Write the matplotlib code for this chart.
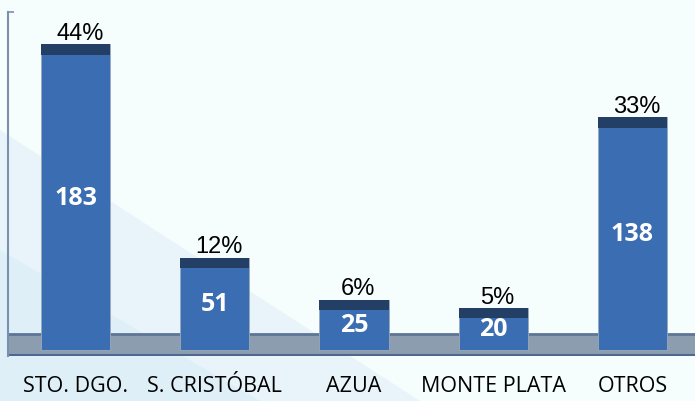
import matplotlib.pyplot as plt
from matplotlib.patches import Polygon, Rectangle

categorias = ['STO. DGO.', 'S. CRISTÓBAL', 'AZUA', 'MONTE PLATA', 'OTROS']
valores = [183, 51, 25, 20, 138]
porcentajes = ['44%', '12%', '6%', '5%', '33%']

fig = plt.figure(figsize=(6.95, 4.01), dpi=100)
fig.patch.set_facecolor('#f6fdfd')

# fondo con swoosh claro abajo a la izquierda
bg = fig.add_axes([0, 0, 1, 1], zorder=-1)
bg.set_xlim(0, 695)
bg.set_ylim(401, 0)
bg.axis('off')
bg.add_patch(Polygon([(0, 130), (0, 401), (420, 401)], closed=True,
                     facecolor='#e8f4fa', edgecolor='none'))
bg.add_patch(Polygon([(0, 250), (0, 401), (260, 401)], closed=True,
                     facecolor='#deeff8', edgecolor='none'))

ax = fig.add_axes([8/695, 45/401, 687/695, 344/401])
ax.set_facecolor('none')
ax.set_xlim(-0.485, 4.449)
ax.set_ylim(-9.9, 203.1)

# piso gris
ax.add_patch(Rectangle((-0.485, -9.6), 5, 13.3, facecolor='#8d9db0',
                       edgecolor='none', zorder=1))
ax.axhline(3.7, color='#5d7597', lw=2, zorder=1.5)
ax.axhline(-9.4, color='#4e6990', lw=2.2, zorder=1.5)

x = range(len(categorias))
fondo = -6.2
cap = 6.5
ax.bar(x, [v - fondo for v in valores], bottom=fondo, width=0.497,
       color='#3a6db1', edgecolor='#9aaabb', linewidth=0.6, zorder=2)
ax.bar(x, [cap] * len(valores), bottom=[v - cap for v in valores], width=0.497,
       color='#243f66', edgecolor='none', zorder=3)

for i, (v, p) in enumerate(zip(valores, porcentajes)):
    ax.text(i + 0.03, v - 0.5, p, ha='center', va='bottom', fontsize=17,
            family='Liberation Sans', color='black', zorder=4)
    ax.text(i, v / 2 - 3.7, str(v), ha='center', va='center', fontsize=18,
            fontweight='bold', family='Open Sans', color='white', zorder=4)
    ax.text(i, -28.5, categorias[i], ha='center', va='center', fontsize=15.5,
            family='Open Sans', color='black', clip_on=False)

for s in ['top', 'right', 'bottom']:
    ax.spines[s].set_visible(False)
ax.spines['left'].set_color('#7a90ae')
ax.spines['left'].set_linewidth(1.5)
ax.set_xticks([])
ax.set_yticks([203.1])
ax.set_yticklabels([])
ax.tick_params(axis='y', direction='in', length=4, color='#7a90ae', width=1.2)

fig.savefig('out.png', dpi=100, facecolor=fig.get_facecolor())
